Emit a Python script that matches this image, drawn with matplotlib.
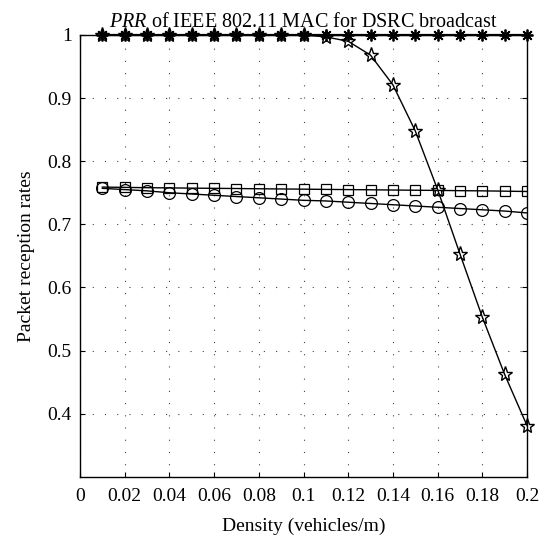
import matplotlib
matplotlib.use("Agg")
import matplotlib.pyplot as plt

density = [0.01, 0.02, 0.03, 0.04, 0.05, 0.06, 0.07, 0.08, 0.09, 0.10,
           0.11, 0.12, 0.13, 0.14, 0.15, 0.16, 0.17, 0.18, 0.19, 0.20]
prr_asterisk = [1.0] * 20
prr_star = [1.0, 1.0, 1.0, 1.0, 1.0, 1.0, 1.0, 1.0, 1.0, 1.0,
            0.997, 0.990, 0.968, 0.921, 0.848, 0.755, 0.653, 0.553, 0.462, 0.381]
prr_square = [0.759, 0.7585, 0.758, 0.7577, 0.7573, 0.757, 0.7567, 0.7563, 0.756, 0.7557,
              0.7553, 0.755, 0.7547, 0.7543, 0.754, 0.7537, 0.7533, 0.753, 0.7525, 0.752]
prr_circle = [0.757, 0.755, 0.753, 0.750, 0.748, 0.746, 0.744, 0.742, 0.740, 0.738,
              0.737, 0.735, 0.733, 0.731, 0.729, 0.727, 0.725, 0.723, 0.721, 0.718]
xticks = [0, 0.02, 0.04, 0.06, 0.08, 0.1, 0.12, 0.14, 0.16, 0.18, 0.2]
xticklabels = ["0", "0.02", "0.04", "0.06", "0.08", "0.1", "0.12", "0.14", "0.16", "0.18", "0.2"]
yticks = [0.4, 0.5, 0.6, 0.7, 0.8, 0.9, 1.0]
yticklabels = ["0.4", "0.5", "0.6", "0.7", "0.8", "0.9", "1"]

plt.rcParams['font.family'] = ['Liberation Serif', 'DejaVu Serif']
plt.rcParams['mathtext.fontset'] = 'custom'
plt.rcParams['mathtext.rm'] = 'Liberation Serif'
plt.rcParams['mathtext.it'] = 'Liberation Serif:italic'

fig = plt.figure(figsize=(5.48, 5.40), dpi=100)
ax = fig.add_axes([0.1460, 0.1172, 0.8157, 0.8180])

ax.plot(density, prr_square, color='black', lw=1, marker='s', ms=6.5,
        mfc='none', mec='black', mew=0.9, zorder=3)
ax.plot(density, prr_circle, color='black', lw=1, marker='o', ms=8.5,
        mfc='none', mec='black', mew=0.9, zorder=3)
ax.plot(density, prr_star, color='black', lw=1, marker='*', ms=11,
        mfc='none', mec='black', mew=1.0, zorder=4, clip_on=False)
ax.plot(density, prr_asterisk, color='black', lw=1.6, marker=(8, 2, 0), ms=8.5,
        mfc='none', mec='black', mew=1.3, zorder=5, clip_on=False)

ax.set_xlim(0, 0.2)
ax.set_ylim(0.3, 1.0)
ax.set_xticks(xticks)
ax.set_xticklabels(xticklabels)
ax.set_yticks(yticks)
ax.set_yticklabels(yticklabels)
ax.tick_params(direction='in', length=3.5, width=0.8, labelsize=14,
               top=True, right=True, pad=6)
ax.tick_params(axis='x', pad=8)
for s in ax.spines.values():
    s.set_linewidth(1.0)

ax.grid(True, linestyle=(0, (1, 10)), color='#444444', linewidth=0.8)

ax.set_xlabel("Density (vehicles/m)", fontsize=14, labelpad=9)
ax.set_ylabel("Packet reception rates", fontsize=14, labelpad=9)
ax.set_title(r"$\it{PRR}$ of IEEE 802.11 MAC for DSRC broadcast", fontsize=14.5, pad=6)

fig.savefig("out.png", dpi=100)
